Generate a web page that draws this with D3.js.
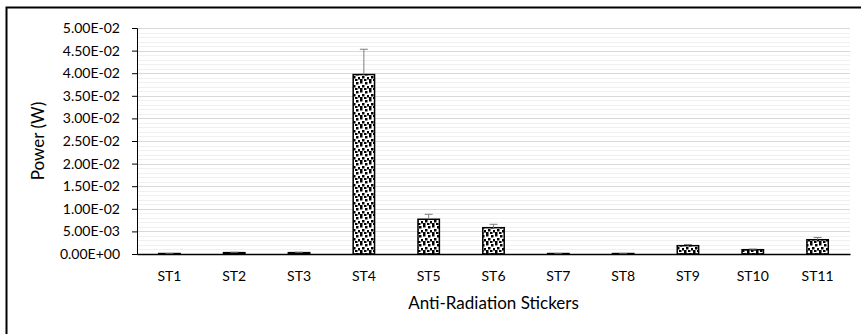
<!DOCTYPE html>
<html>
<head>
<meta charset="utf-8">
<script src="https://cdn.jsdelivr.net/npm/d3@7"></script>
<style>
  body { margin: 0; background: #fff; }
  svg text { font-family: Lato, "Open Sans", sans-serif; fill: #000; }
</style>
</head>
<body>
<div id="viz"></div>
<script>
var stickers = ["ST1", "ST2", "ST3", "ST4", "ST5", "ST6", "ST7", "ST8", "ST9", "ST10", "ST11"];
var power = [0.0001, 0.0003, 0.0003, 0.0397, 0.00768, 0.00582, 0.0001, 0.0001, 0.00184, 0.00095, 0.00316];
var powerErr = [0.00003, 0.0001, 0.0001, 0.0056, 0.0011, 0.00075, 0.00003, 0.00003, 0.00026, 0.00015, 0.0005];
var yTicks = [0, 0.005, 0.01, 0.015, 0.02, 0.025, 0.03, 0.035, 0.04, 0.045, 0.05];

var width = 861,
    height = 334,
    margin = {top: 28, right: 11, bottom: 80, left: 137};

var x = d3.scaleBand()
  .domain(stickers)
  .range([margin.left, width - margin.right])
  .paddingInner(0.67)
  .paddingOuter(0.335);

var y = d3.scaleLinear()
  .domain([0, 0.05])
  .range([height - margin.bottom, margin.top]);

var svg = d3.select("#viz")
  .append("svg")
    .attr("width", width)
    .attr("height", height);

// chart frame (only top/left visible in the crop)
svg.append("rect")
  .attr("x", 6.5).attr("y", 7.5)
  .attr("width", width + 10).attr("height", height + 10)
  .attr("fill", "#fff")
  .attr("stroke", "#000")
  .attr("stroke-width", 2);

// confetti fill
var pat = svg.append("defs").append("pattern")
  .attr("id", "confetti")
  .attr("patternUnits", "userSpaceOnUse")
  .attr("width", 9).attr("height", 9);
pat.append("rect").attr("width", 9).attr("height", 9).attr("fill", "#fff");
[[0,0],[5,1],[2,4],[7,5],[4,7],[0,7]].forEach(function(p) {
  pat.append("rect").attr("x", p[0]).attr("y", p[1]).attr("width", 2.5).attr("height", 2.5).attr("fill", "#000");
});

// minor + major grid
var minor = d3.range(0, 51).map(function(d) { return d / 1000; });
svg.append("g")
  .selectAll("line")
  .data(minor)
  .enter().append("line")
    .attr("x1", margin.left).attr("x2", width - margin.right)
    .attr("y1", function(d) { return Math.round(y(d)) + 0.5; })
    .attr("y2", function(d) { return Math.round(y(d)) + 0.5; })
    .attr("stroke", function(d, i) { return i % 5 === 0 ? "#d9d9d9" : "#f0f0f0"; })
    .attr("stroke-width", 1);

// bars
svg.append("g")
  .selectAll("rect")
  .data(power)
  .enter().append("rect")
    .attr("x", function(d, i) { return x(stickers[i]); })
    .attr("y", function(d) { return y(d); })
    .attr("width", x.bandwidth())
    .attr("height", function(d) { return y(0) - y(d); })
    .attr("fill", "url(#confetti)")
    .attr("stroke", "#000")
    .attr("stroke-width", 1.5);

// error bars (plus side only)
var err = svg.append("g").attr("stroke", "#7f7f7f").attr("stroke-width", 1);
power.forEach(function(d, i) {
  var cx = x(stickers[i]) + x.bandwidth() / 2;
  err.append("line")
    .attr("x1", cx).attr("x2", cx)
    .attr("y1", y(d)).attr("y2", y(d + powerErr[i]));
  err.append("line")
    .attr("x1", cx - 4).attr("x2", cx + 4)
    .attr("y1", y(d + powerErr[i])).attr("y2", y(d + powerErr[i]));
});

// y axis
var yAxis = svg.append("g")
  .attr("transform", "translate(" + margin.left + ",0)")
  .call(d3.axisLeft(y).tickValues(yTicks).tickSize(5).tickPadding(12)
    .tickFormat(function(d) {
      var s = d.toExponential(2).toUpperCase();
      return s.replace(/E([+-])(\d)$/, "E$10$2");
    }));
yAxis.select(".domain").attr("stroke", "#000");
yAxis.selectAll(".tick line").attr("stroke", "#000");
yAxis.selectAll("text").style("font-size", "14px").style("font-family", "Lato, sans-serif");

// x axis
var xAxis = svg.append("g")
  .attr("transform", "translate(0," + y(0) + ")")
  .call(d3.axisBottom(x).tickSize(0).tickPadding(17));
xAxis.select(".domain").attr("stroke", "#000").attr("stroke-width", 1.5);
xAxis.selectAll("text").style("font-size", "14px").style("font-family", "Lato, sans-serif");

// axis titles
svg.append("text")
  .attr("x", (margin.left + width - margin.right) / 2)
  .attr("y", 309)
  .attr("text-anchor", "middle")
  .style("font-size", "17px")
  .text("Anti-Radiation Stickers");

svg.append("text")
  .attr("transform", "translate(44," + ((margin.top + height - margin.bottom) / 2) + ") rotate(-90)")
  .attr("text-anchor", "middle")
  .style("font-size", "17px")
  .text("Power (W)");
</script>
</body>
</html>
